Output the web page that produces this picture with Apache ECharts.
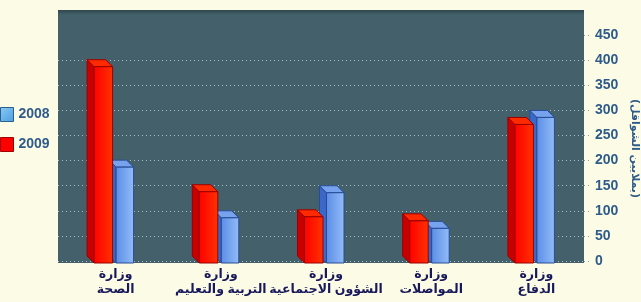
<!DOCTYPE html>
<html><head><meta charset="utf-8">
<script src="https://cdn.jsdelivr.net/npm/echarts@6/dist/echarts.min.js"></script>
<style>html,body{margin:0;padding:0;background:#fcfce6;}#c{width:641px;height:302px;}</style>
</head><body><div id="c"></div>
<script>
const categories = ["وزارة\nالصحة", "وزارة\nالتربية والتعليم", "وزارة\nالشؤون الاجتماعية", "وزارة\nالمواصلات", "وزارة\nالدفاع"];
const values2008 = [187, 86, 136, 65, 286];
const values2009 = [387, 138, 88, 80, 272];
const yTicks = [0, 50, 100, 150, 200, 250, 300, 350, 400, 450];
const yAxisName = "(بملايين الشواقل)";

const chart = echarts.init(document.getElementById('c'), null, {renderer: 'canvas'});

function make3D(offL, offR, pal) {
  return function (params, api) {
    const idx = api.value(0), v = api.value(1);
    const top = api.coord([idx, v]);
    const base = api.coord([idx, 0]);
    const cx = top[0];
    const x0 = cx + offL, x1 = cx + offR;
    const yT = top[1], yB = base[1] + 2;
    const d = 7;
    return {
      type: 'group',
      children: [
        {type: 'polygon', shape: {points: [[x0, yT], [x0 - d, yT - d], [x0 - d, yB - d], [x0, yB]]},
         style: {fill: pal.side, stroke: pal.stroke, lineWidth: 1}},
        {type: 'polygon', shape: {points: [[x0, yT], [x0 - d, yT - d], [x1 - d, yT - d], [x1, yT]]},
         style: {fill: pal.top, stroke: pal.stroke, lineWidth: 1}},
        {type: 'rect', shape: {x: x0, y: yT, width: x1 - x0, height: yB - yT},
         style: {fill: new echarts.graphic.LinearGradient(0, 0, 1, 0, [
           {offset: 0, color: pal.f0}, {offset: 1, color: pal.f1}]),
           stroke: pal.stroke, lineWidth: 1}}
      ]
    };
  };
}

const bluePal = {side: '#3b67c8', top: '#76a2ee', f0: '#5b8de6', f1: '#93bcf7', stroke: '#274c96'};
const redPal = {side: '#c80000', top: '#ff2a00', f0: '#ff0000', f1: '#ff3300', stroke: '#9a0000'};

const option = {
  backgroundColor: '#fcfce6',
  animation: false,
  textStyle: {fontFamily: 'Arial, "Liberation Sans", "DejaVu Sans", sans-serif'},
  grid: {left: 58, right: 57, top: 10, bottom: 41, show: true, backgroundColor: '#44616b', borderWidth: 0,
    containLabel: false, outerBoundsMode: 'none'},
  legend: {
    orient: 'vertical', left: 0, top: 107, itemWidth: 13, itemHeight: 14, itemGap: 15, padding: 0,
    textStyle: {color: '#2f5b8a', fontWeight: 'bold', fontSize: 14},
    data: [
      {name: '2008', icon: 'rect', itemStyle: {color: new echarts.graphic.LinearGradient(0, 0, 1, 1, [{offset: 0, color: '#8ccaf4'}, {offset: 1, color: '#4a9ee0'}]), borderColor: '#2a5f90', borderWidth: 1}},
      {name: '2009', icon: 'rect', itemStyle: {color: '#ff0000', borderColor: '#a00000', borderWidth: 1}}
    ]
  },
  xAxis: {
    type: 'category', data: categories,
    axisLine: {show: false}, axisTick: {show: false},
    axisLabel: {interval: 0, margin: 6, color: '#18185a', fontWeight: 'bold', fontSize: 12.5, lineHeight: 15,
      padding: [0, 0, 0, 10], fontFamily: 'Arial, "DejaVu Sans", sans-serif'}
  },
  yAxis: {
    type: 'value', position: 'right', min: 0, max: 500, interval: 50,
    name: yAxisName, nameLocation: 'middle', nameRotate: -90, nameGap: 42,
    nameTextStyle: {color: '#2f5b8a', fontWeight: 'bold', fontSize: 11, padding: [0, 0, 0, 26], fontFamily: '"DejaVu Sans", sans-serif'},
    axisLine: {show: false},
    axisTick: {show: true, length: 7, customValues: yTicks, lineStyle: {color: '#8797a6', type: [1, 3]}},
    axisLabel: {margin: 11, color: '#2f5b8a', fontWeight: 'bold', fontSize: 14, customValues: yTicks},
    splitLine: {show: true, showMaxLine: false, lineStyle: {color: '#a9bcc2', type: [1, 3], width: 1}}
  },
  graphic: [
    {type: 'rect', z: 0, shape: {x: 58, y: 10, width: 526, height: 5},
     style: {fill: new echarts.graphic.LinearGradient(0, 0, 0, 1, [{offset: 0, color: '#2f474e'}, {offset: 1, color: '#44616b'}])}},
    {type: 'rect', z: 0, shape: {x: 58, y: 260, width: 526, height: 3}, style: {fill: '#44616b'}}
  ],
  series: [
    {name: '2008', type: 'custom', renderItem: make3D(5.5, 23, bluePal),
     itemStyle: {color: '#6a9be8'}, data: values2008.map((v, i) => [i, v]), z: 3},
    {name: '2009', type: 'custom', renderItem: make3D(-16.5, 2, redPal),
     itemStyle: {color: '#ff0000'}, data: values2009.map((v, i) => [i, v]), z: 4}
  ]
};
chart.setOption(option);
</script></body></html>
